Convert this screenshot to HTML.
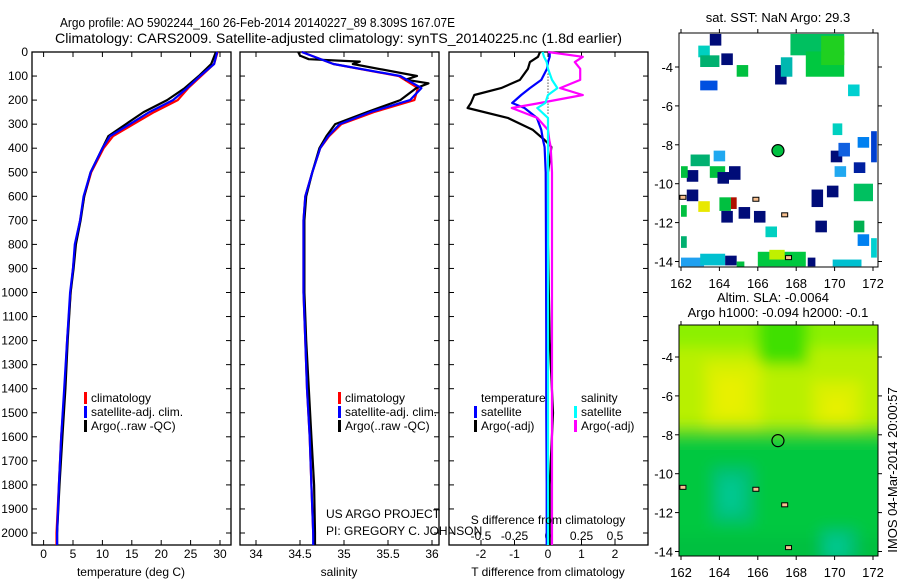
<!DOCTYPE html>
<html><head><meta charset="utf-8"><style>
html,body{margin:0;padding:0;background:#fff}
svg{display:block;font-family:"Liberation Sans",sans-serif}
</style></head><body>
<svg id="c" width="900" height="580" viewBox="0 0 900 580">
<defs><filter id="bl" x="-10%" y="-10%" width="120%" height="120%"><feGaussianBlur stdDeviation="7"/></filter></defs>
<rect width="900" height="580" fill="#fff"/>
<text x="60" y="27" font-size="12.5" textLength="395" lengthAdjust="spacingAndGlyphs">Argo profile: AO 5902244_160 26-Feb-2014 20140227_89 8.309S 167.07E</text>
<text x="55" y="43" font-size="14" textLength="567" lengthAdjust="spacingAndGlyphs">Climatology: CARS2009. Satellite-adjusted climatology: synTS_20140225.nc (1.8d earlier)</text>
<g id="g"></g>
</svg>
<script>
// ---------- data ----------
const depths = [0,50,100,150,200,250,300,350,400,500,600,700,800,900,1000,1200,1400,1600,1800,2000,2050];
const tempClim = [29.6,29.0,26.8,24.6,22.8,18.8,15.3,11.8,10.2,8.1,6.9,6.2,5.4,5.0,4.6,4.0,3.6,3.0,2.6,2.2,2.2];
const tempSat  = [29.5,29.0,26.6,24.4,22.0,18.0,14.7,11.3,10.0,8.0,6.8,6.2,5.3,5.0,4.5,4.0,3.5,3.0,2.6,2.3,2.3];
const tempArgo = [29.3,28.5,26.4,24.0,21.0,17.0,14.0,11.0,10.0,8.0,6.9,6.3,5.5,5.1,4.6,4.1,3.7,3.2,2.7,2.3,2.3];
const salClim = [34.52,34.88,35.62,35.84,35.80,35.34,34.97,34.83,34.73,34.64,34.56,34.54,34.54,34.54,34.54,34.56,34.58,34.61,34.63,34.65,34.66];
const salSat  = [34.52,34.88,35.64,35.88,35.75,35.30,34.95,34.82,34.73,34.64,34.56,34.54,34.54,34.54,34.54,34.56,34.58,34.61,34.63,34.65,34.65];
const argoDepths = [0,15,30,40,50,100,115,130,150,200,250,300,350,400,500,600,700,800,1000,1200,1400,1600,1800,2000,2050];
const salArgo = [34.48,34.50,34.60,35.18,35.10,35.83,35.70,35.96,35.82,35.64,35.26,34.90,34.80,34.72,34.64,34.57,34.55,34.55,34.55,34.57,34.60,34.63,34.66,34.67,34.67];
const diffDepths = [0,20,42,70,116,150,179,212,233,274,324,366,395,500,800,1200,1500,1800,2050];
const dTArgo = [-0.24,-0.3,-0.54,-0.6,-0.84,-1.4,-2.2,-2.3,-2.4,-1.2,-0.45,-0.1,0.1,0.0,0.0,0.05,0.15,0.05,0.05];
const dTSat  = [0.05,0.05,0.0,-0.03,-0.2,-0.54,-0.8,-1.07,-0.7,-0.33,-0.2,-0.15,-0.1,-0.07,-0.06,-0.05,-0.05,-0.04,-0.04];
const dSArgo = [0.0,0.26,0.2,0.24,0.24,0.09,0.26,-0.06,-0.27,-0.08,0.0,0.01,0.02,0.03,0.03,0.03,0.03,0.03,0.03];
const dSSat  = [-0.04,-0.03,-0.01,0.0,0.03,0.07,0.0,-0.02,-0.08,0.0,0.0,0.0,0.0,0.0,0.0,0.0,0.0,0.0,0.0];
const depthTicks = [0,100,200,300,400,500,600,700,800,900,1000,1100,1200,1300,1400,1500,1600,1700,1800,1900,2000];
const tempTicks = [0,5,10,15,20,25,30];
const salTicks = [34,34.5,35,35.5,36];
const dTTicks = [-2,-1,0,1,2];
const dSTicks = [-0.5,-0.25,0,0.25,0.5];
const lonTicks = [162,164,166,168,170,172];
const latTicks = [-4,-6,-8,-10,-12,-14];
// SST cells: [lon0, lat0(top), width deg, height deg, colour]
const sstCells = [
 [163.5,-2.3,0.6,0.6,'#000c78'],[164.1,-3.3,0.6,0.6,'#000c78'],[164.9,-3.9,0.6,0.6,'#00c040'],
 [166.9,-3.9,0.6,1.0,'#000c78'],[170.7,-4.9,0.6,0.6,'#00d0d0'],[169.9,-6.9,0.5,0.6,'#00d0c0'],
 [167.7,-2.3,2.8,1.1,'#00c060'],[168.5,-3.2,2.0,1.3,'#00c840'],[169.3,-2.4,1.2,1.5,'#20d020'],
 [167.2,-3.5,0.6,1.0,'#00b8b0'],[162.9,-2.9,0.6,0.6,'#00d0c0'],[163.0,-3.4,1.0,0.6,'#00b070'],
 [163.0,-4.7,0.9,0.5,'#0050e0'],[163.7,-8.3,0.6,0.55,'#20a8f0'],[162.5,-8.5,1.0,0.6,'#00b070'],
 [164.5,-9.1,0.6,0.7,'#000c78'],[163.5,-9.1,0.8,0.6,'#00c040'],[162.3,-9.3,0.6,0.6,'#000c78'],
 [162.3,-10.3,0.6,0.6,'#000c78'],[163.9,-9.4,0.6,0.6,'#000c78'],[162.9,-10.9,0.6,0.55,'#e8e800'],
 [164.0,-10.7,0.6,0.7,'#00c040'],[164.6,-10.7,0.3,0.6,'#b01000'],[164.1,-11.4,0.6,0.6,'#000c78'],
 [165.0,-11.2,0.6,0.6,'#000c78'],[165.8,-11.4,0.6,0.6,'#000c78'],[166.4,-12.2,0.6,0.55,'#00d0c0'],
 [168.8,-10.3,0.6,0.9,'#000c78'],[169.6,-10.1,0.6,0.6,'#000c78'],[169.0,-11.9,0.6,0.6,'#000c78'],
 [169.8,-8.3,0.6,0.6,'#000c78'],[170.2,-7.9,0.6,0.7,'#1060e0'],[171.0,-8.9,0.6,0.55,'#0020a0'],
 [170.0,-9.1,0.6,0.55,'#20a8f0'],[171.2,-7.6,0.6,0.55,'#0080f0'],[171.9,-7.3,0.3,1.6,'#0040d0'],
 [171.0,-10.0,1.0,0.9,'#00c060'],[171.0,-11.9,0.55,0.6,'#00b050'],[171.2,-12.6,0.6,0.6,'#0080f0'],
 [162.0,-13.8,1.2,0.45,'#20a0f0'],[163.0,-13.6,1.3,0.6,'#00c0d0'],[164.3,-13.7,0.6,0.5,'#000c78'],
 [164.9,-14.0,0.4,0.3,'#00c040'],[166.0,-13.5,2.5,0.75,'#00c840'],[166.6,-13.4,0.8,0.5,'#c0f000'],
 [168.6,-13.8,0.4,0.45,'#000c78'],[169.9,-13.9,1.5,0.35,'#00c0d0'],[171.9,-12.8,0.3,1.0,'#00d0d0'],
 [162.0,-9.1,0.35,0.6,'#00c040'],[162.0,-11.1,0.3,0.6,'#00c040'],[162.0,-12.7,0.3,0.6,'#00b070']
];
// SLA field patches: [lon0, lat0(top), width, height, colour]
const slaCells = [
 [160,-0.5,14,7.5,'#b8f000'],[160,-0.5,14,3.0,'#8cf000'],[166,-1,2.6,3.4,'#40e000'],
 [163.2,-4.2,3.0,3.6,'#d8f000'],[168.8,-5.2,2.6,2.4,'#d8f000'],[163.8,-5.0,1.6,2.0,'#e8f000'],
 [169.5,-6.0,1.2,1.2,'#e8f000'],[160,-7.8,14,8.5,'#00c840'],[160,-7.6,14,0.6,'#40d820'],
 [160,-13.2,14,2.5,'#00c040'],[163.6,-9.6,2.2,3.0,'#00c070'],[164.0,-10.2,1.2,1.8,'#00c890'],
 [169.2,-12.8,2.0,1.8,'#00c070'],[169.6,-13.2,1.0,1.2,'#00c890']
];
const argoPos = [167.05,-8.3];

// ---------- helpers ----------
const NS='http://www.w3.org/2000/svg', G=document.getElementById('g');
function mk(tag,attrs,parent){const e=document.createElementNS(NS,tag);for(const k in attrs)e.setAttribute(k,attrs[k]);(parent||G).appendChild(e);return e;}
const yD = d => 52 + d*0.2405;
function line(xs,ds,sx,col,w,name){
  const pts = xs.map((v,i)=>sx(v).toFixed(1)+','+yD(ds[i]).toFixed(1)).join(' ');
  const p = mk('polyline',{points:pts,fill:'none',stroke:col,'stroke-width':w,'stroke-linejoin':'round'});
  
  
}
function txt(x,y,s,opts){const t=mk('text',Object.assign({x:x,y:y,'font-size':12},opts||{}));t.textContent=s;return t;}
function panel(x0,x1,name){
  const r=mk('rect',{x:x0,y:52,width:x1-x0,height:493,fill:'none',stroke:'#000','stroke-width':1.3});
  
  
}
function xTicks(vals,sx,y,lab){
  vals.forEach(v=>{const x=sx(v);
    mk('line',{x1:x,x2:x,y1:545,y2:540,stroke:'#000'});
    mk('line',{x1:x,x2:x,y1:52,y2:57,stroke:'#000'});
    if(lab){const t=txt(x,y,String(v),{'text-anchor':'middle'});
      
      }
  });
}
function legendBar(x,y,col){mk('rect',{x:x,y:y-10,width:3,height:12,fill:col});}

// ---------- panel 1: temperature ----------
const sxT = v => 43.6 + v*5.88;
panel(32,231,'temperature-panel');
depthTicks.forEach(d=>{const y=yD(d);
  mk('line',{x1:32,x2:37,y1:y,y2:y,stroke:'#000'});
  mk('line',{x1:226,x2:231,y1:y,y2:y,stroke:'#000'});
  mk('line',{x1:240,x2:245,y1:y,y2:y,stroke:'#000'});
  mk('line',{x1:434,x2:439,y1:y,y2:y,stroke:'#000'});
  mk('line',{x1:449,x2:454,y1:y,y2:y,stroke:'#000'});
  mk('line',{x1:643,x2:648,y1:y,y2:y,stroke:'#000'});
  const t=txt(28,y+4,String(d),{'text-anchor':'end'});
  
  
});
xTicks(tempTicks,sxT,558,true);
line(tempClim,depths,sxT,'#f00',2.2,'temp-climatology-line');
line(tempArgo,depths,sxT,'#000',2.2,'temp-argo-line');
line(tempSat,depths,sxT,'#00f',2.2,'temp-satellite-line');
txt(131,576,'temperature (deg C)',{'text-anchor':'middle'});
legendBar(84,402,'#f00');legendBar(84,416,'#00f');legendBar(84,430,'#000');
txt(91,402,'climatology');txt(91,416,'satellite-adj. clim.');txt(91,430,'Argo(..raw -QC)');

// ---------- panel 2: salinity ----------
const sxS = v => 256 + (v-34)*88;
panel(240,439,'salinity-panel');
xTicks(salTicks,sxS,558,true);
line(salClim,depths,sxS,'#f00',2.2,'sal-climatology-line');
line(salArgo,argoDepths,sxS,'#000',2.2,'sal-argo-line');
line(salSat,depths,sxS,'#00f',2.2,'sal-satellite-line');
txt(339,576,'salinity',{'text-anchor':'middle'});
legendBar(338,402,'#f00');legendBar(338,416,'#00f');legendBar(338,430,'#000');
txt(345,402,'climatology');txt(345,416,'satellite-adj. clim.');txt(345,430,'Argo(..raw -QC)');
txt(326,518,'US ARGO PROJECT');txt(326,535,'PI: GREGORY C. JOHNSON');

// ---------- panel 3: differences ----------
const sxdT = v => 548 + v*33.5;
const sxdS = v => 548 + v*134;
panel(449,648,'difference-panel');
xTicks(dTTicks,sxdT,558,true);
dSTicks.forEach(v=>{const t=txt(sxdS(v),540,String(v),{'text-anchor':'middle'});
  
  });
mk('line',{x1:548,x2:548,y1:yD(90),y2:yD(260),stroke:'#000','stroke-dasharray':'1,2'});
line(dTArgo,diffDepths,sxdT,'#000',2.2,'dT-argo-line');
line(dTSat,diffDepths,sxdT,'#00f',2.2,'dT-satellite-line');
line(dSArgo,diffDepths,sxdS,'#f0f',2.2,'dS-argo-line');
line(dSSat,diffDepths,sxdS,'#0ff',2.2,'dS-satellite-line');
txt(548,524,'S difference from climatology',{'text-anchor':'middle'});
txt(548,576,'T difference from climatology',{'text-anchor':'middle'});
txt(481,402,'temperature');txt(581,402,'salinity');
legendBar(474,416,'#00f');legendBar(474,430,'#000');legendBar(574,416,'#0ff');legendBar(574,430,'#f0f');
txt(481,416,'satellite');txt(481,430,'Argo(-adj)');txt(581,416,'satellite');txt(581,430,'Argo(-adj)');

// ---------- maps ----------
const mx = lon => 681 + (lon-162)*19.2;
function map(top,bot,latRef,cells,name,blur){
  const my = lat => latRef + (-4-lat)*19.45;
  const clip = mk('clipPath',{id:'cl'+top}); mk('rect',{x:679,y:top,width:199,height:bot-top},clip);
  const outer = mk('g',{'clip-path':'url(#cl'+top+')'});
  const g = mk('g', blur?{filter:'url(#bl)'}:{}, outer);
  
  
  cells.forEach(c=>{
    const r=mk('rect',{x:mx(c[0]),y:my(c[1]),width:c[2]*19.2,height:c[3]*19.45,fill:c[4]},g);
    
    
  });
  [[162.1,-10.7],[165.9,-10.8],[167.4,-11.6],[167.6,-13.8]].forEach(p=>{
    mk('rect',{x:mx(p[0])-3,y:my(p[1])-2,width:6,height:4,fill:'#f8c090',stroke:'#000','stroke-width':1},outer);});
  mk('rect',{x:679,y:top,width:199,height:bot-top,fill:'none',stroke:'#000','stroke-width':1});
  lonTicks.forEach(l=>{const x=mx(l);mk('line',{x1:x,x2:x,y1:top,y2:top-4,stroke:'#000'});mk('line',{x1:x,x2:x,y1:bot,y2:bot+4,stroke:'#000'});
    txt(x,bot+21,String(l),{'text-anchor':'middle','font-size':13});});
  latTicks.forEach(l=>{const y=my(l);mk('line',{x1:679,x2:675,y1:y,y2:y,stroke:'#000'});mk('line',{x1:878,x2:882,y1:y,y2:y,stroke:'#000'});
    txt(673,y+5,String(l),{'text-anchor':'end','font-size':13});});
  return my;
}
const my1 = map(33,267,67,sstCells,'sst-map',false);
const c1=mk('circle',{cx:mx(argoPos[0]),cy:my1(argoPos[1]),r:6,fill:'#00c040',stroke:'#000','stroke-width':1.2});


txt(778,22,'sat. SST: NaN Argo: 29.3',{'text-anchor':'middle','font-size':13});
const my2 = map(325,556,357,slaCells,'sla-map',true);
const c2=mk('circle',{cx:mx(argoPos[0]),cy:my2(argoPos[1]),r:6,fill:'none',stroke:'#000','stroke-width':1.2});


txt(773,302,'Altim. SLA: -0.0064',{'text-anchor':'middle','font-size':13});
txt(778,317,'Argo h1000: -0.094 h2000: -0.1',{'text-anchor':'middle','font-size':13});
txt(0,0,'IMOS 04-Mar-2014 20:00:57',{'text-anchor':'middle','font-size':13,transform:'translate(897,470) rotate(-90)'});
</script>
</body></html>
